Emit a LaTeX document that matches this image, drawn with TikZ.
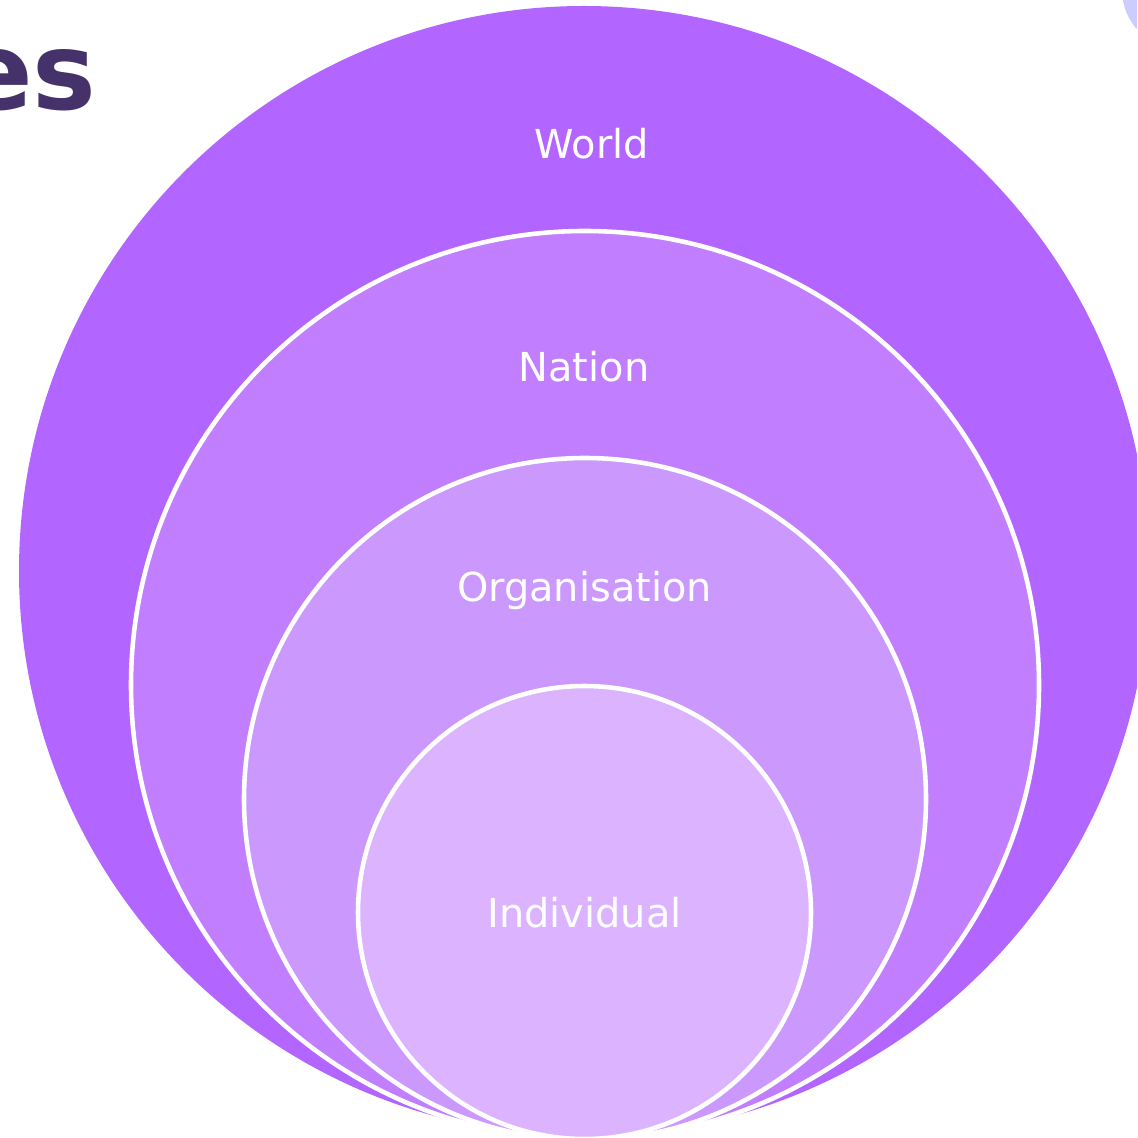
\documentclass[tikz,border=0pt]{standalone}
\usepackage{fontspec}
\setsansfont{DejaVu Sans}
\definecolor{worldpurple}{HTML}{B266FF}
\definecolor{nationpurple}{HTML}{C17EFF}
\definecolor{orgpurple}{HTML}{CB98FD}
\definecolor{indivpurple}{HTML}{DBB3FE}
\definecolor{titlepurple}{HTML}{46326A}
\definecolor{cornerblue}{HTML}{CCCCFF}
\usetikzlibrary{positioning}

\begin{document}
\begin{tikzpicture}[
  x=0.02cm, y=-0.02cm,
  ring/.style={draw=white, line width=2.6pt},
  lbl/.style={font=\sffamily\fontsize{22.7}{27}\selectfont, text=white, anchor=base},
  title/.style={font=\sffamily\bfseries\fontsize{61}{70}\selectfont, text=titlepurple, anchor=base east}
]
  \useasboundingbox (0,0) rectangle (1137,1138);
  \begin{scope}
    \clip (0,0) rectangle (1137,1138);
    % nested circles
    \fill[cornerblue] (1181,-10) circle (59);
    \fill[worldpurple] (584,571) circle (565);
    \filldraw[ring, fill=nationpurple] (585,685) circle (454);
    \filldraw[ring, fill=orgpurple] (585,799) circle (341);
    \filldraw[ring, fill=indivpurple] (584.5,912.5) circle (226.5);
    \node[title] (heading) at (103,110) {es};
  \end{scope}

  \node[lbl] (world) at (592,159) {World};
  \node[lbl] (nation) at (584,381) {Nation};
  \node[lbl] (organisation) at (584.5,601) {Organisation};
  \node[lbl] (individual) at (584.5,927) {Individual};
\end{tikzpicture}
\end{document}
